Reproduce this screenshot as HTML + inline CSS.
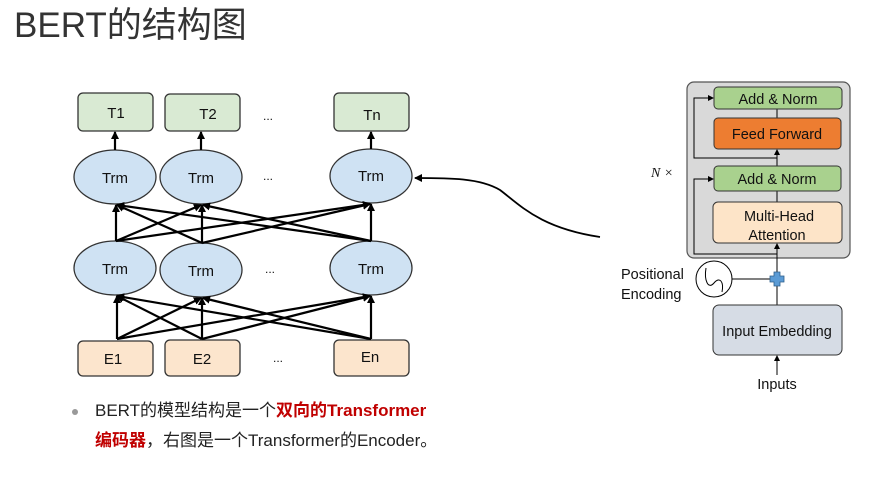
<!DOCTYPE html>
<html><head><meta charset="utf-8"><style>
body{margin:0;width:894px;height:473px;background:#fff;overflow:hidden;font-family:"Liberation Sans","Noto Sans CJK SC",sans-serif;}
</style></head><body>
<svg width="894" height="473" viewBox="0 0 894 473" xmlns="http://www.w3.org/2000/svg" font-family="Liberation Sans, Noto Sans CJK SC, sans-serif">
<defs>
<marker id="a" markerWidth="8" markerHeight="8" refX="7" refY="4" orient="auto" markerUnits="userSpaceOnUse"><path d="M0,0 L8,4 L0,8 z" fill="#000"/></marker>
<marker id="s" markerWidth="6" markerHeight="6" refX="5" refY="3" orient="auto" markerUnits="userSpaceOnUse"><path d="M0,0 L6,3 L0,6 z" fill="#000"/></marker>
</defs>
<text x="14" y="37" font-size="35" fill="#333">BERT的结构图</text>
<g stroke="#333" stroke-width="1.3">
<rect x="78" y="93" width="75" height="38" rx="5" fill="#d9ead3"/>
<rect x="165" y="94" width="75" height="37" rx="5" fill="#d9ead3"/>
<rect x="334" y="93" width="75" height="38" rx="5" fill="#d9ead3"/>
<ellipse cx="115" cy="177" rx="41" ry="27" fill="#cfe2f3"/>
<ellipse cx="201" cy="177" rx="41" ry="27" fill="#cfe2f3"/>
<ellipse cx="371" cy="176" rx="41" ry="27" fill="#cfe2f3"/>
<ellipse cx="115" cy="268" rx="41" ry="27" fill="#cfe2f3"/>
<ellipse cx="201" cy="270" rx="41" ry="27" fill="#cfe2f3"/>
<ellipse cx="371" cy="268" rx="41" ry="27" fill="#cfe2f3"/>
<rect x="78" y="341" width="75" height="35" rx="5" fill="#fce5cd"/>
<rect x="165" y="340" width="75" height="36" rx="5" fill="#fce5cd"/>
<rect x="334" y="340" width="75" height="36" rx="5" fill="#fce5cd"/>
</g>
<g stroke="#000" stroke-width="2.2" fill="none" marker-end="url(#a)">
<line x1="115" y1="150" x2="115" y2="132"/><line x1="201" y1="150" x2="201" y2="132"/><line x1="371" y1="149" x2="371" y2="132"/>
<line x1="116" y1="241" x2="116" y2="205"/><line x1="116" y1="241" x2="201" y2="205"/><line x1="116" y1="241" x2="370" y2="204"/>
<line x1="202" y1="243" x2="117" y2="205"/><line x1="202" y1="243" x2="202" y2="205"/><line x1="202" y1="243" x2="370" y2="204"/>
<line x1="371" y1="241" x2="117" y2="205"/><line x1="371" y1="241" x2="203" y2="205"/><line x1="371" y1="241" x2="371" y2="204"/>
<line x1="117" y1="339" x2="117" y2="296"/><line x1="117" y1="339" x2="201" y2="298"/><line x1="117" y1="339" x2="370" y2="296"/>
<line x1="202" y1="339" x2="117" y2="296"/><line x1="202" y1="339" x2="202" y2="298"/><line x1="202" y1="339" x2="370" y2="296"/>
<line x1="371" y1="339" x2="117" y2="296"/><line x1="371" y1="339" x2="203" y2="298"/><line x1="371" y1="339" x2="371" y2="296"/>
<path d="M600,237 C540,228 520,205 500,190 C480,178 450,178 415,178" stroke-width="1.8"/>
</g>
<g font-size="15" fill="#111" text-anchor="middle">
<text x="116" y="118">T1</text><text x="208" y="119">T2</text><text x="372" y="120">Tn</text>
<text x="115" y="183">Trm</text><text x="201" y="183">Trm</text><text x="371" y="181">Trm</text>
<text x="115" y="274">Trm</text><text x="201" y="276">Trm</text><text x="371" y="274">Trm</text>
<text x="113" y="364">E1</text><text x="202" y="364">E2</text><text x="370" y="362">En</text>
<text x="268" y="120" font-size="12">...</text><text x="268" y="180" font-size="12">...</text><text x="270" y="273" font-size="12">...</text><text x="278" y="362" font-size="12">...</text>
</g>
<rect x="687" y="82" width="163" height="176" rx="7" fill="#d9d9d9" stroke="#555" stroke-width="1.2"/>
<g stroke="#000" stroke-width="1" fill="none">
<line x1="777" y1="118" x2="777" y2="109"/>
<line x1="777" y1="166" x2="777" y2="150" marker-end="url(#s)"/>
<line x1="777" y1="202" x2="777" y2="191"/>
<line x1="777" y1="305" x2="777" y2="244" marker-end="url(#s)"/>
<path d="M777,158 H694 V98 H713" marker-end="url(#s)"/>
<path d="M777,254 H694 V179 H713" marker-end="url(#s)"/>
<line x1="732" y1="279" x2="777" y2="279"/>
<line x1="777" y1="375" x2="777" y2="356" marker-end="url(#s)"/>
<circle cx="714" cy="279" r="18" fill="#fff"/>
<path d="M706,268 C704,280 708,290 714,283 C720,276 724,282 722,292"/>
</g>
<g stroke="#333" stroke-width="1">
<rect x="714" y="87" width="128" height="22" rx="4" fill="#a9d18e"/>
<rect x="714" y="118" width="127" height="31" rx="4" fill="#ed7d31"/>
<rect x="714" y="166" width="127" height="25" rx="4" fill="#a9d18e"/>
<rect x="713" y="202" width="129" height="41" rx="5" fill="#fde4c8"/>
<rect x="713" y="305" width="129" height="50" rx="6" fill="#d6dce5"/>
</g>
<path d="M774,272h6v4h4v6h-4v4h-6v-4h-4v-6h4z" fill="#5b9bd5" stroke="#2e5f8a" stroke-width="0.8"/>
<g font-size="14.5" fill="#111" text-anchor="middle">
<text x="778" y="104">Add &amp; Norm</text>
<text x="777" y="139">Feed Forward</text>
<text x="777" y="184">Add &amp; Norm</text>
<text x="779" y="221">Multi-Head</text>
<text x="777" y="240">Attention</text>
<text x="777" y="336">Input Embedding</text>
<text x="777" y="389">Inputs</text>
</g>
<text x="621" y="279" font-size="14.5" fill="#111">Positional</text>
<text x="621" y="299" font-size="14.5" fill="#111">Encoding</text>
<text x="651" y="177" font-size="14" font-style="italic" font-family="Liberation Serif, serif" fill="#111">N ×</text>
<circle cx="75" cy="412" r="3" fill="#999"/>
<text x="95" y="416" font-size="17" fill="#222">BERT的模型结构是一个<tspan fill="#c00000" font-weight="bold">双向的Transformer</tspan></text>
<text x="95" y="446" font-size="17" fill="#222"><tspan fill="#c00000" font-weight="bold">编码器</tspan>，右图是一个Transformer的Encoder。</text>
</svg>
</body></html>
